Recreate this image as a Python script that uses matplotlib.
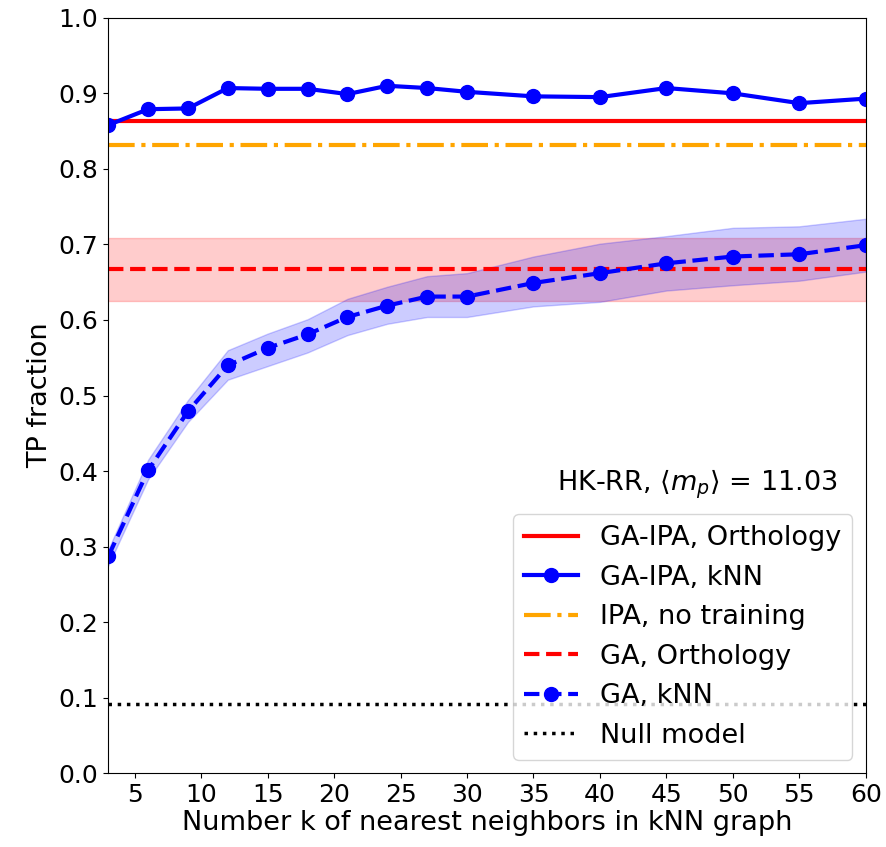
import matplotlib
matplotlib.use('Agg')
import matplotlib.pyplot as plt

# k values of the kNN graph
k_values = [3, 6, 9, 12, 15, 18, 21, 24, 27, 30, 35, 40, 45, 50, 55, 60]

# GA-IPA with kNN graph
ga_ipa_knn = [0.858, 0.879, 0.880, 0.907, 0.906, 0.906, 0.899, 0.910,
              0.907, 0.902, 0.896, 0.895, 0.907, 0.900, 0.887, 0.893]

# GA with kNN graph, mean and spread
ga_knn = [0.287, 0.401, 0.479, 0.540, 0.563, 0.581, 0.604, 0.619,
          0.631, 0.631, 0.649, 0.662, 0.675, 0.684, 0.687, 0.699]
ga_knn_low = [0.275, 0.389, 0.465, 0.521, 0.539, 0.557, 0.580, 0.595,
              0.604, 0.604, 0.618, 0.624, 0.639, 0.646, 0.652, 0.664]
ga_knn_high = [0.296, 0.415, 0.494, 0.560, 0.582, 0.601, 0.628, 0.644,
               0.658, 0.662, 0.684, 0.701, 0.711, 0.722, 0.724, 0.734]

# horizontal reference levels
ga_ipa_orthology = 0.864
ipa_no_training = 0.832
ga_orthology = 0.667
ga_orthology_low = 0.625
ga_orthology_high = 0.709
null_model = 0.092

plt.rcParams['font.size'] = 19.5
plt.rcParams['xtick.labelsize'] = 18
plt.rcParams['ytick.labelsize'] = 18

fig, ax = plt.subplots(figsize=(8.87, 8.47), dpi=100)
fig.subplots_adjust(left=0.122, right=0.976, bottom=0.087, top=0.979)

ax.axhline(ga_ipa_orthology, color='red', lw=3, label='GA-IPA, Orthology')
ax.plot(k_values, ga_ipa_knn, color='blue', lw=3, marker='o', ms=10,
        label='GA-IPA, kNN')
ax.axhline(ipa_no_training, color='orange', lw=3, ls='-.',
           label='IPA, no training')
ax.axhline(ga_orthology, color='red', lw=3, ls='--', label='GA, Orthology')
ax.axhspan(ga_orthology_low, ga_orthology_high, color='red', alpha=0.2)
ax.plot(k_values, ga_knn, color='blue', lw=3, ls='--', marker='o', ms=10,
        label='GA, kNN')
ax.fill_between(k_values, ga_knn_low, ga_knn_high, color='blue', alpha=0.2)
ax.axhline(null_model, color='black', lw=2.5, ls=':', label='Null model')

ax.set_xlim(3, 60)
ax.set_ylim(0, 1)
ax.set_xticks([5, 10, 15, 20, 25, 30, 35, 40, 45, 50, 55, 60])
ax.set_yticks([0.0, 0.1, 0.2, 0.3, 0.4, 0.5, 0.6, 0.7, 0.8, 0.9, 1.0])
ax.set_xlabel('Number k of nearest neighbors in kNN graph', labelpad=2)
ax.set_ylabel('TP fraction')

ax.text(0.963, 0.383, r'HK-RR, $\langle m_p \rangle$ = 11.03',
        transform=ax.transAxes, ha='right', va='center')
ax.legend(loc='lower right', fontsize=19.5)

plt.savefig('out.png')
